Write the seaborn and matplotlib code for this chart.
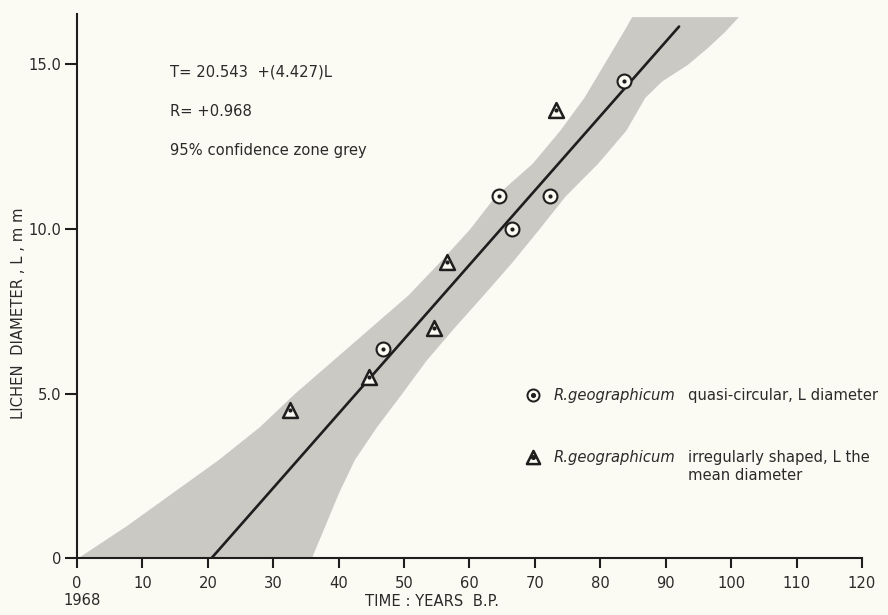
import numpy as np
import pandas as pd
import matplotlib
matplotlib.use("Agg")
import matplotlib.pyplot as plt
import seaborn as sns

# ---- data ----
circle_T = [83.6, 64.5, 72.3, 66.5, 46.8]
circle_L = [14.5, 11.0, 11.0, 10.0, 6.35]

tri_T = [73.2, 56.5, 54.5, 44.7, 32.6]
tri_L = [13.6, 9.0, 7.0, 5.5, 4.5]

# regression line T = a + b L
reg_a = 20.543
reg_b = 4.427
reg_L = [0.0, 16.15]

# 95% confidence zone (edges in T for given L)
band_L = [0, 1, 2, 3, 4, 5, 6, 7, 8, 9, 10, 11, 12, 13, 14, 14.5, 15, 15.5, 16, 16.45]
band_T_lo = [0, 7.6, 14.6, 21.6, 27.9, 33.2, 39.0, 44.8, 50.6, 55.4, 60.0, 63.9, 69.6, 73.8, 77.5, 79.0, 80.5, 82.0, 83.5, 84.8]
band_T_hi = [35.8, 37.9, 40.0, 42.4, 45.8, 49.6, 53.3, 57.6, 62.1, 66.5, 70.6, 74.6, 79.6, 83.9, 86.8, 89.4, 93.3, 96.3, 99.0, 101.1]

x_ticks = [0, 10, 20, 30, 40, 50, 60, 70, 80, 90, 100, 110, 120]
y_ticks = [0, 5, 10, 15]
y_ticklabels = ["0", "5.0", "10.0", "15.0"]

BG = "#fbfaf3"
BAND = "#cac9c3"
INK = "#1e1e1e"
TXT = "#2a2a2a"
FS = 10.6

sns.set_theme(style="ticks")
plt.rcParams["font.family"] = ["DejaVu Sans"]

fig = plt.figure(figsize=(8.88, 6.15), dpi=100, facecolor=BG)
ax = fig.add_axes([0.0867, 0.0922, 0.884, 0.885])
ax.set_facecolor(BG)

# confidence band
ax.fill_betweenx(band_L, band_T_lo, band_T_hi, color=BAND, lw=0, zorder=1)

# regression line
reg_df = pd.DataFrame({"T": [reg_a + reg_b * l for l in reg_L], "L": reg_L})
sns.lineplot(data=reg_df, x="T", y="L", ax=ax, color=INK, lw=1.9, zorder=2, sort=False)

# markers
cdf = pd.DataFrame({"T": circle_T, "L": circle_L})
tdf = pd.DataFrame({"T": tri_T, "L": tri_L})
sns.scatterplot(data=cdf, x="T", y="L", ax=ax, marker="o", s=100, facecolor=BG,
                edgecolor=INK, linewidth=1.5, zorder=3)
sns.scatterplot(data=cdf, x="T", y="L", ax=ax, marker="o", s=9, color=INK,
                edgecolor=INK, linewidth=0, zorder=4)
sns.scatterplot(data=tdf, x="T", y="L", ax=ax, marker="^", s=115, facecolor=BG,
                edgecolor=INK, linewidth=1.8, zorder=3)
sns.scatterplot(data=tdf, x="T", y="L", ax=ax, marker="o", s=9, color=INK,
                edgecolor=INK, linewidth=0, zorder=4)

ax.set_xlim(0, 120)
ax.set_ylim(0, 16.53)
ax.set_xticks(x_ticks)
ax.set_xticklabels([str(v) for v in x_ticks])
ax.set_yticks(y_ticks)
ax.set_yticklabels(y_ticklabels)
ax.set_xlabel("")
ax.set_ylabel("")

for s in ["top", "right"]:
    ax.spines[s].set_visible(False)
for s in ["left", "bottom"]:
    ax.spines[s].set_color(INK)
    ax.spines[s].set_linewidth(1.5)
ax.tick_params(axis="x", direction="out", length=7, width=1.5, color=INK,
               labelsize=FS, labelcolor=TXT, pad=6)
ax.tick_params(axis="y", direction="out", length=9, width=1.5, color=INK,
               labelsize=FS, labelcolor=TXT, pad=2)

# axis titles
fig.text(0.0205, 0.49, "LICHEN  DIAMETER , L , m m", rotation=90, ha="center",
         va="center", fontsize=FS, color=TXT)
fig.text(0.486, 0.010, "TIME : YEARS  B.P.", ha="center", va="bottom",
         fontsize=FS, color=TXT)
fig.text(0.092, 0.012, "1968", ha="center", va="bottom", fontsize=FS, color=TXT)

# annotations
ax.text(14.2, 14.77, "T= 20.543  +(4.427)L", fontsize=FS, color=TXT, va="center")
ax.text(14.2, 13.58, "R= +0.968", fontsize=FS, color=TXT, va="center")
ax.text(14.2, 12.37, "95% confidence zone grey", fontsize=FS, color=TXT, va="center")

# legend (hand placed like the original)
lx_mark = (533 - 77) / 785 * 120
lx_name = (554 - 77) / 785 * 120
lx_desc = (688 - 77) / 785 * 120
ly1 = (558.3 - 395) / 32.93
ly2 = (558.3 - 457) / 32.93
ax.scatter([lx_mark], [ly1], marker="o", s=75, facecolor=BG, edgecolor=INK, linewidth=1.4, zorder=5)
ax.scatter([lx_mark], [ly1], marker="o", s=7, color=INK, zorder=6)
ax.scatter([lx_mark], [ly2], marker="^", s=90, facecolor=BG, edgecolor=INK, linewidth=1.8, zorder=5)
ax.scatter([lx_mark], [ly2], marker="o", s=7, color=INK, zorder=6)
ax.text(lx_name, ly1, "R.geographicum", style="italic", fontsize=FS, color=TXT, va="center")
ax.text(lx_desc, ly1, "quasi-circular, L diameter", fontsize=FS, color=TXT, va="center")
ax.text(lx_name, ly2, "R.geographicum", style="italic", fontsize=FS, color=TXT, va="center")
ax.text(lx_desc, ly2, "irregularly shaped, L the", fontsize=FS, color=TXT, va="center")
ax.text(lx_desc, ly2 - 0.55, "mean diameter", fontsize=FS, color=TXT, va="center")

fig.savefig("out.png", dpi=100, facecolor=BG)
